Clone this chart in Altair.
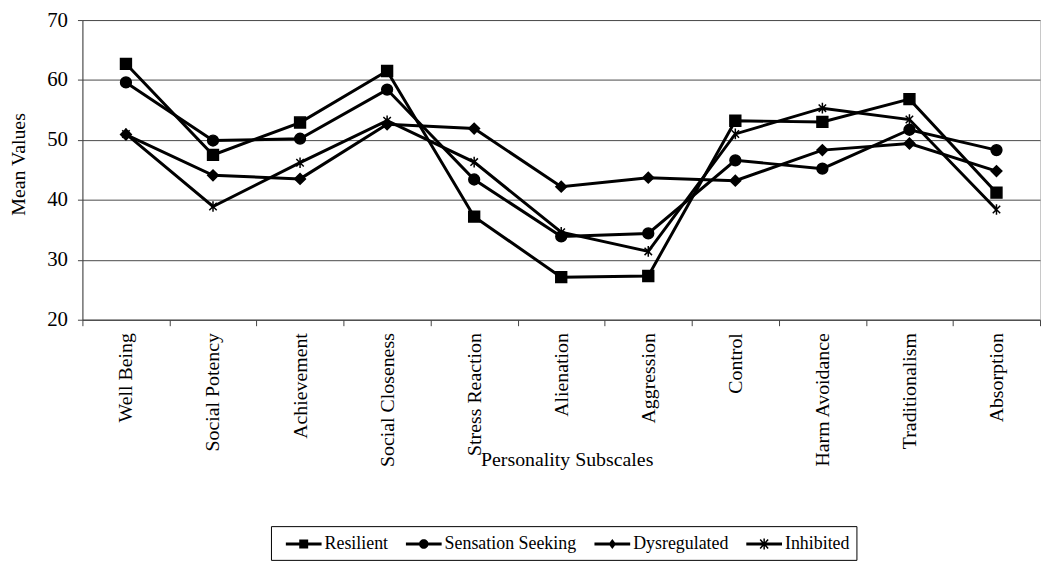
import altair as alt
import pandas as pd

categories = ["Well Being", "Social Potency", "Achievement", "Social Closeness",
              "Stress Reaction", "Alienation", "Aggression", "Control",
              "Harm Avoidance", "Traditionalism", "Absorption"]
series_names = ["Resilient", "Sensation Seeking", "Dysregulated", "Inhibited"]
resilient = [62.7, 47.5, 52.9, 61.5, 37.2, 27.1, 27.3, 53.2, 53.0, 56.8, 41.2]
sensation_seeking = [59.6, 49.9, 50.2, 58.4, 43.4, 33.9, 34.4, 46.6, 45.2, 51.7, 48.3]
dysregulated = [50.9, 44.1, 43.5, 52.6, 51.9, 42.2, 43.7, 43.2, 48.3, 49.4, 44.8]
inhibited = [51.0, 38.9, 46.2, 53.2, 46.3, 34.6, 31.4, 51.0, 55.3, 53.4, 38.4]
y_ticks = [20, 30, 40, 50, 60, 70]

rows = []
for name, vals in zip(series_names, [resilient, sensation_seeking, dysregulated, inhibited]):
    for c, v in zip(categories, vals):
        rows.append({"Subscale": c, "Group": name, "Value": v})
df = pd.DataFrame(rows)

FONT = "Liberation Serif"
ASTERISK = "M-0.7,-0.7L0.7,0.7M-0.7,0.7L0.7,-0.7M0,-1V1"
marker_shapes = ["square", "circle", "diamond", ASTERISK]
marker_sizes = [120, 115, 75, 130]


def poly(points, dx):
    return "M" + "L".join(f"{x + dx:.3f},{y:.3f}" for x, y in points) + "Z"


# legend glyphs, filled outlines only (unit = 10px with symbolSize 400)
C = 1.5  # marker centre, in units, relative to symbol centre
LINE = poly([(-0.3 - C, -0.15), (3.3 - C, -0.15), (3.3 - C, 0.15), (-0.3 - C, 0.15)], C)
LEG_SQ = LINE + poly([(-0.45, -0.45), (0.45, -0.45), (0.45, 0.45), (-0.45, 0.45)], C)
LEG_CI = LINE + (f"M{C + 0.48:.3f},0A0.48,0.48 0 1,1 {C - 0.48:.3f},0"
                 f"A0.48,0.48 0 1,1 {C + 0.48:.3f},0Z")
LEG_DI = LINE + poly([(0, -0.5), (0.38, 0), (0, 0.5), (-0.38, 0)], C)
LEG_AS = (LINE
          + poly([(-0.344, -0.50), (0.456, 0.40), (0.344, 0.50), (-0.456, -0.40)], C)
          + poly([(-0.456, 0.40), (0.344, -0.50), (0.456, -0.40), (-0.344, 0.50)], C)
          + poly([(-0.075, -0.55), (0.075, -0.55), (0.075, 0.55), (-0.075, 0.55)], C))
legend_shapes = [LEG_SQ, LEG_CI, LEG_DI, LEG_AS]

x_enc = alt.X(
    "Subscale:N",
    sort=categories,
    bandPosition=0.5,
    scale=alt.Scale(type="band", paddingInner=0, paddingOuter=0),
    axis=alt.Axis(
        labelAngle=-90, labelFontSize=20, labelPadding=7, labelLimit=300,
        labelColor="black", tickSize=6, tickBand="extent", tickColor="#444",
        domainColor="#444", grid=False,
        title="Personality Subscales", titleFontSize=20, titleFontWeight="normal",
        titleColor="black", titleX=488, titleY=147, titleAlign="center",
        titleBaseline="alphabetic",
    ),
)
y_enc = alt.Y(
    "Value:Q",
    scale=alt.Scale(domain=[20, 70], nice=False, zero=False),
    axis=alt.Axis(
        values=y_ticks, labelFontSize=21, labelPadding=10, labelColor="black",
        tickSize=5, tickColor="#444", domainColor="#444",
        grid=True, gridColor="#4a4a4a", gridWidth=1,
        title="Mean Values", titleFontSize=20, titleFontWeight="normal",
        titleColor="black", titleX=-64, titleY=145, titleAlign="center",
        titleBaseline="middle",
    ),
)

lines = alt.Chart(df).mark_line(color="black", strokeWidth=3).encode(
    x=x_enc, y=y_enc, detail="Group:N"
)

points = alt.Chart(df).mark_point(
    filled=True, fill="black", stroke="black", strokeWidth=1.5, opacity=1
).encode(
    x=x_enc,
    y=y_enc,
    shape=alt.Shape(
        "Group:N",
        scale=alt.Scale(domain=series_names, range=marker_shapes),
        legend=None,
    ),
    size=alt.Size(
        "Group:N",
        scale=alt.Scale(domain=series_names, range=marker_sizes),
        legend=None,
    ),
)

legend_layer = alt.Chart(df).transform_filter("false").transform_calculate(
    Series="datum.Group"
).mark_point(
    filled=True, fill="black", opacity=1
).encode(
    x=x_enc,
    y=y_enc,
    shape=alt.Shape(
        "Series:N",
        scale=alt.Scale(domain=series_names, range=legend_shapes),
        legend=alt.Legend(
            title=None, orient="none", legendX=190, legendY=510,
            direction="horizontal", columns=4,
            strokeColor="black", fillColor="white", padding=7,
            columnPadding=10, labelOffset=25,
            labelFont=FONT, labelFontSize=18, labelColor="black", labelLimit=300,
            symbolSize=400, symbolOpacity=1,
            symbolFillColor="black",
        ),
    ),
)

chart = (
    alt.layer(lines, points, legend_layer)
    .resolve_scale(shape="independent", size="independent")
    .properties(
        width=965, height=302,
        autosize=alt.AutoSizeParams(type="none"),
        padding={"left": 75, "top": 10, "right": 2, "bottom": 243},
    )
    .configure(font=FONT)
    .configure_view(stroke="#c8c8c8", strokeWidth=1)
)

chart.save("out.html", embed_options={"renderer": "svg", "actions": False})
